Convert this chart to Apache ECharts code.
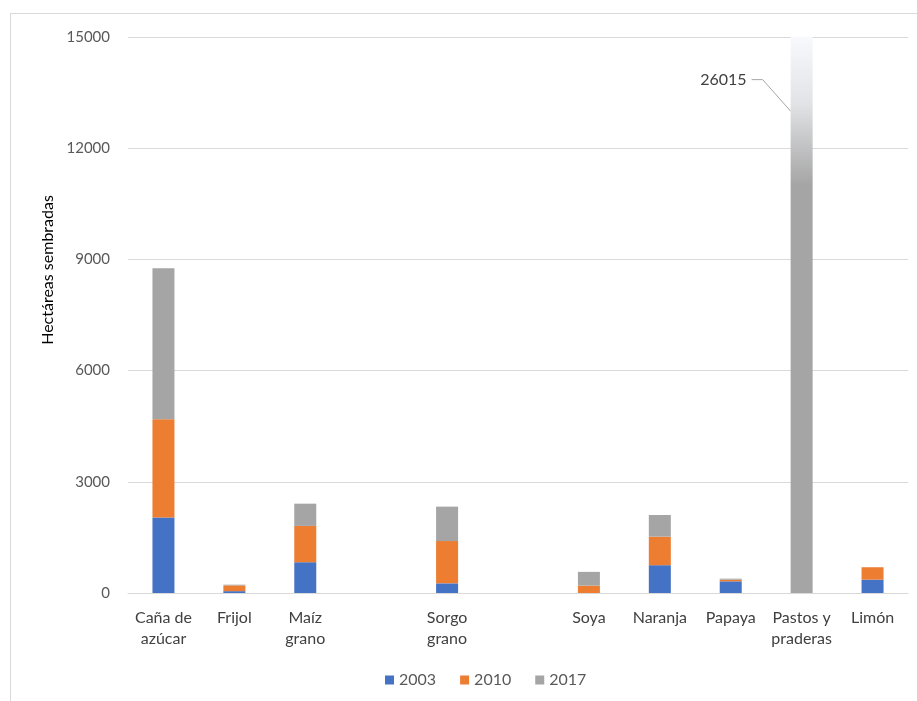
<!DOCTYPE html>
<html>
<head>
<meta charset="utf-8">
<script src="https://cdn.jsdelivr.net/npm/echarts@6/dist/echarts.min.js"></script>
<style>
html,body{margin:0;padding:0;background:#fff;}
#wrap{position:absolute;left:10px;top:13px;width:907px;height:688px;border-left:1px solid #d9d9d9;border-top:1px solid #d9d9d9;}
#chart{position:absolute;left:0;top:0;width:917px;height:701px;}
</style>
</head>
<body>
<div id="wrap"></div>
<div id="chart"></div>
<script>
const categories = ["Caña de\nazúcar", "Frijol", "Maíz\ngrano", "", "Sorgo\ngrano", "", "Soya", "Naranja", "Papaya", "Pastos y\npraderas", "Limón"];
const seriesNames = ["2003", "2010", "2017"];
const values2003 = [2040, 50, 830, null, 260, null, 0, 750, 315, 0, 360];
const values2010 = [2645, 155, 980, null, 1140, null, 200, 770, 45, 0, 335];
const values2017 = [4075, 20, 600, null, 930, null, 370, 585, 27, 26015, 0];
const yTicks = [0, 3000, 6000, 9000, 12000, 15000];
const colors = ["#4472c4", "#ed7d31", "#a5a5a5"];
const outlierIndex = 9;
const outlierLabel = "26015";

const FONT = "Lato, 'Open Sans', sans-serif";
const chart = echarts.init(document.getElementById('chart'), null, {renderer: 'canvas'});

function makeSeries(name, data, color) {
  return {
    name: name, type: 'bar', stack: 'total', barWidth: 22, clip: true,
    itemStyle: {color: color},
    data: data.slice()
  };
}

const option = {
  animation: false,
  color: colors,
  grid: {left: 128, right: 9, top: 37, bottom: 108, containLabel: false},
  legend: {
    bottom: 8, left: 380, itemWidth: 9, itemHeight: 9, itemGap: 24,
    icon: 'rect',
    textStyle: {fontFamily: FONT, fontSize: 16, color: '#595959'},
    data: seriesNames
  },
  xAxis: {
    type: 'category', data: categories,
    axisLine: {lineStyle: {color: '#d9d9d9', width: 1}},
    axisTick: {show: false},
    axisLabel: {interval: 0, fontFamily: FONT, fontSize: 16, color: '#404040', lineHeight: 21, margin: 14}
  },
  yAxis: {
    type: 'value', min: yTicks[0], max: yTicks[yTicks.length - 1], interval: yTicks[1] - yTicks[0],
    name: 'Hectáreas sembradas', nameLocation: 'middle', nameGap: 72,
    nameTextStyle: {fontFamily: FONT, fontSize: 16, color: '#000', padding: [0, 0, 0, 90]},
    axisLine: {show: false}, axisTick: {show: false},
    splitLine: {lineStyle: {color: '#d9d9d9', width: 1}},
    axisLabel: {fontFamily: FONT, fontSize: 15, color: '#595959', margin: 18, formatter: v => String(v)}
  },
  series: [
    makeSeries(seriesNames[0], values2003, colors[0]),
    makeSeries(seriesNames[1], values2010, colors[1]),
    makeSeries(seriesNames[2], values2017, colors[2])
  ]
};
chart.setOption(option);

// Broken-bar fade for the outlier and its label, placed through the axes' own scales
const maxV = yTicks[yTicks.length - 1];
const topPx = chart.convertToPixel({yAxisIndex: 0}, maxV);
const fadeEndPx = chart.convertToPixel({yAxisIndex: 0}, 11000);
const xc = chart.convertToPixel({xAxisIndex: 0}, categories[outlierIndex]);
const barLeft = xc - 11;
const labelY = chart.convertToPixel({yAxisIndex: 0}, 13850);
const anchorY = chart.convertToPixel({yAxisIndex: 0}, 13000);

const d2017 = values2017.map((v, i) => i === outlierIndex ? {
  value: v,
  itemStyle: {color: {type: 'linear', global: true, x: 0, y: topPx, x2: 0, y2: fadeEndPx,
    colorStops: [{offset: 0, color: '#f8f9fc'}, {offset: 0.45, color: '#e2e3e6'}, {offset: 1, color: '#a5a5a5'}]}}
} : v);

chart.setOption({
  series: [{}, {}, {data: d2017}],
  graphic: [
    {type: 'text', x: barLeft - 44, y: labelY, style: {text: outlierLabel, fontFamily: FONT, fontSize: 16, fill: '#404040', textAlign: 'right', textVerticalAlign: 'middle'}},
    {type: 'polyline', shape: {points: [[barLeft - 39, labelY], [barLeft - 28, labelY], [barLeft, anchorY]]}, style: {stroke: '#a6a6a6', lineWidth: 1, fill: null}}
  ]
});
</script>
</body>
</html>
